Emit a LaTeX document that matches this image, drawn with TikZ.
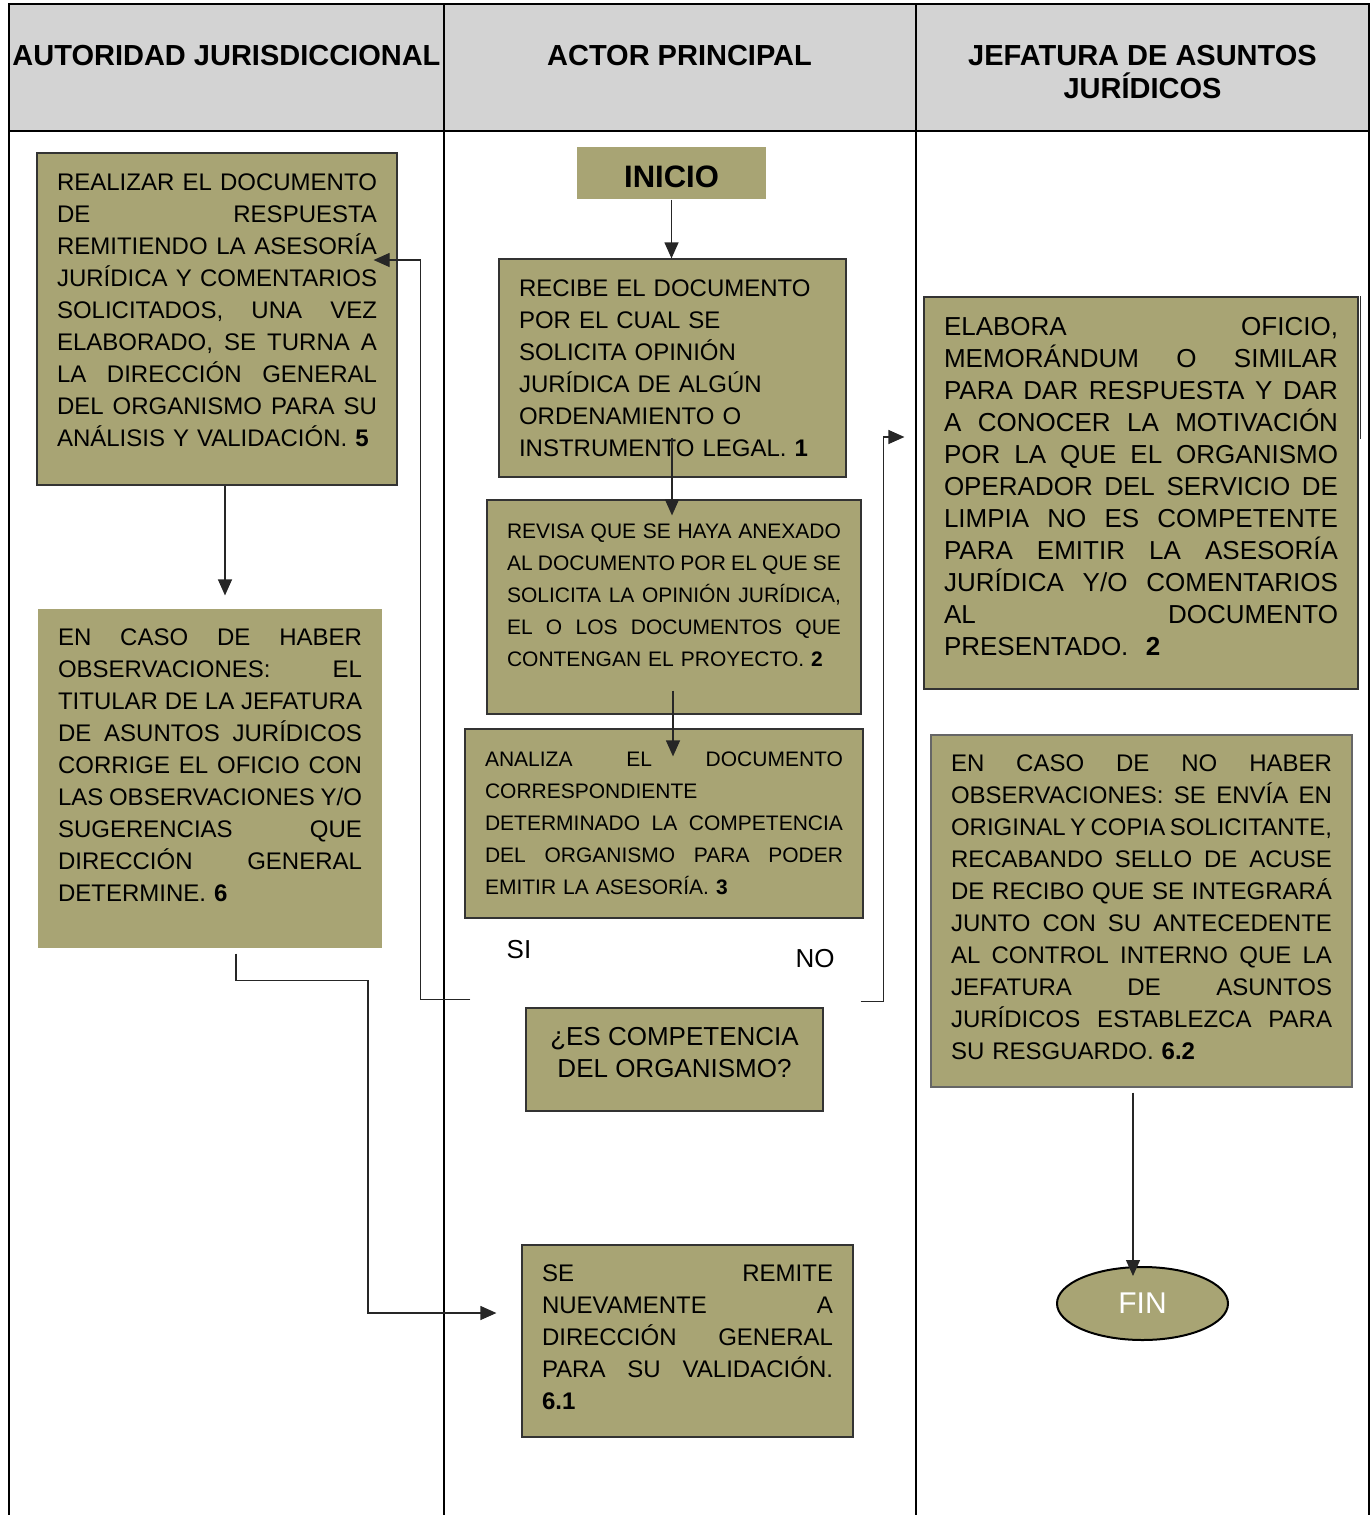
\documentclass[tikz,border=0pt]{standalone}
\usepackage{fontspec}
\setmainfont{Liberation Sans}
\usetikzlibrary{arrows.meta,shapes.geometric}
\definecolor{caja}{RGB}{168,164,116}
\definecolor{encabezado}{RGB}{211,211,211}
\setlength{\parindent}{0pt}
\newcommand{\linea}[1]{\makebox[\hsize][s]{\spaceskip=0pt\xspaceskip=0pt\relax #1}\\}
\newcommand{\fondo}[1]{\rule[-#1]{0pt}{0pt}}

\begin{document}
\begin{tikzpicture}[x=1pt,y=-1pt,
  marco/.style={line width=2pt, black},
  titulo/.style={anchor=north, inner sep=0pt, align=center, font=\fontsize{29}{33}\selectfont\bfseries},
  paso/.style={draw=black!80, line width=1.2pt, fill=caja, inner xsep=20pt, font=\fontsize{24}{32}\selectfont},
  flecha/.style={-{Triangle[length=16pt,width=14pt]}, line width=1.2pt, black!85}]
\useasboundingbox (0,0) rectangle (1371,1515);
\fill[encabezado] (9,4) rectangle (1369,131);
\draw[marco] (9,1515) -- (9,4) -- (1369,4) -- (1369,1515);
\draw[marco] (9,131) -- (1369,131);
\draw[marco] (444,4) -- (444,1515);
\draw[marco] (916,4) -- (916,1515);
\node[titulo] (t1) at (226.5,45.5) {AUTORIDAD JURISDICCIONAL};
\node[titulo] (t2) at (679.5,45.5) {ACTOR PRINCIPAL};
\node[titulo] (t3) at (1142.5,45.5) {JEFATURA DE ASUNTOS\\JURÍDICOS};

\node[paso, text width=320pt, minimum height=332pt] (a5) at (217,319) {\linea{REALIZAR EL DOCUMENTO}\linea{DE RESPUESTA}\linea{REMITIENDO LA ASESORÍA}\linea{JURÍDICA Y COMENTARIOS}\linea{SOLICITADOS, UNA VEZ}\linea{ELABORADO, SE TURNA A}\linea{LA DIRECCIÓN GENERAL}\linea{DEL ORGANISMO PARA SU}ANÁLISIS Y VALIDACIÓN. \textbf{5}\fondo{18pt}};
\node[paso, draw=none, text width=304pt, minimum height=339pt] (a6) at (210,778.5) {\linea{EN CASO DE HABER}\linea{OBSERVACIONES: EL}\linea{TITULAR DE LA JEFATURA}\linea{DE ASUNTOS JURÍDICOS}\linea{CORRIGE EL OFICIO CON}\linea{LAS OBSERVACIONES Y/O}\linea{SUGERENCIAS QUE}\linea{DIRECCIÓN GENERAL}DETERMINE. \textbf{6}\fondo{26pt}};
\node[paso, draw=none, inner sep=0pt, minimum width=189pt, minimum height=52pt, font=\fontsize{31}{36}\selectfont\bfseries] (inicio) at (671.5,173) {\rule{0pt}{30pt}INICIO};
\node[paso, text width=307pt, minimum height=218pt] (b1) at (672.5,368) {RECIBE EL DOCUMENTO\\POR EL CUAL SE\\SOLICITA OPINIÓN\\JURÍDICA DE ALGÚN\\ORDENAMIENTO O\\INSTRUMENTO LEGAL. \textbf{1}};
\node[paso, text width=334pt, minimum height=214pt, font=\fontsize{21}{32}\selectfont] (b2) at (674,607) {\linea{REVISA QUE SE HAYA ANEXADO}\linea{AL DOCUMENTO POR EL QUE SE}\linea{SOLICITA LA OPINIÓN JURÍDICA,}\linea{EL O LOS DOCUMENTOS QUE}CONTENGAN EL PROYECTO. \textbf{2}\fondo{24pt}};
\node[paso, text width=358pt, minimum height=189pt, font=\fontsize{21}{32}\selectfont] (b3) at (664,823.5) {\linea{ANALIZA EL DOCUMENTO}CORRESPONDIENTE\\\linea{DETERMINADO LA COMPETENCIA}\linea{DEL ORGANISMO PARA PODER}EMITIR LA ASESORÍA. \textbf{3}};
\node[paso, align=center, inner sep=0pt, minimum width=297pt, minimum height=103pt, font=\fontsize{26}{32}\selectfont] (dec) at (674.5,1059.5) {¿ES COMPETENCIA\\DEL ORGANISMO?\fondo{14pt}};
\node[font=\fontsize{26}{32}\selectfont] (si) at (519,950) {SI};
\node[font=\fontsize{26}{32}\selectfont] (no) at (815,959) {NO};
\node[paso, text width=291pt, minimum height=192pt] (b61) at (687.5,1341) {\linea{SE REMITE}\linea{NUEVAMENTE A}\linea{DIRECCIÓN GENERAL}\linea{PARA SU VALIDACIÓN.}\textbf{6.1}\fondo{8pt}};
\node[paso, text width=394pt, minimum height=392pt, font=\fontsize{26}{32}\selectfont] (c2) at (1141,493) {\linea{ELABORA OFICIO,}\linea{MEMORÁNDUM O SIMILAR}\linea{PARA DAR RESPUESTA Y DAR}\linea{A CONOCER LA MOTIVACIÓN}\linea{POR LA QUE EL ORGANISMO}\linea{OPERADOR DEL SERVICIO DE}\linea{LIMPIA NO ES COMPETENTE}\linea{PARA EMITIR LA ASESORÍA}\linea{JURÍDICA Y/O COMENTARIOS}\linea{AL DOCUMENTO}PRESENTADO.\ \ \textbf{2}\fondo{14pt}};
\draw[line width=1.5pt, black!80] ([xshift=2pt]c2.north east) -- ++(0,143);
\node[paso, draw=black!60, text width=381pt, minimum height=352pt] (c62) at (1141.5,911) {\linea{EN CASO DE NO HABER}\linea{OBSERVACIONES: SE ENVÍA EN}\linea{ORIGINAL Y COPIA SOLICITANTE,}\linea{RECABANDO SELLO DE ACUSE}\linea{DE RECIBO QUE SE INTEGRARÁ}\linea{JUNTO CON SU ANTECEDENTE}\linea{AL CONTROL INTERNO QUE LA}\linea{JEFATURA DE ASUNTOS}\linea{JURÍDICOS ESTABLEZCA PARA}SU RESGUARDO. \textbf{6.2}\fondo{8pt}};
\node[ellipse, draw=black, line width=2pt, fill=caja, inner sep=0pt, minimum width=171pt, minimum height=73pt, text=white, font=\fontsize{30}{36}\selectfont] (fin) at (1142.5,1303.5) {FIN};

\draw[flecha] (inicio.south) -- (inicio.south |- b1.north);
\draw[flecha] ([xshift=-0.5pt,yshift=40pt]b1.south) -- ([xshift=-2pt,yshift=-16pt]b2.north);
\draw[flecha] ([xshift=-1pt,yshift=24pt]b2.south) -- ([xshift=9pt,yshift=-28pt]b3.north);
\draw[flecha] ([xshift=-55pt,yshift=8pt]dec.north west) -- ++(-50,0) |- ([xshift=-24pt,yshift=59pt]a5.east);
\draw[flecha] ([xshift=37pt,yshift=6pt]dec.north east) -- ++(23,0) |- ([xshift=-19pt,yshift=56pt]c2.west);
\draw[flecha] ([xshift=8pt]a5.south) -- ([xshift=15pt,yshift=13pt]a6.north);
\draw[flecha] ([xshift=26pt,yshift=-5pt]a6.south) -- ++(0,27) -- ++(132,0) |- ([xshift=-25pt,yshift=28pt]b61.west);
\draw[flecha] ([xshift=-8.5pt,yshift=-5pt]c62.south) -- ([xshift=-9.5pt,yshift=-10pt]fin.north);
\end{tikzpicture}
\end{document}
